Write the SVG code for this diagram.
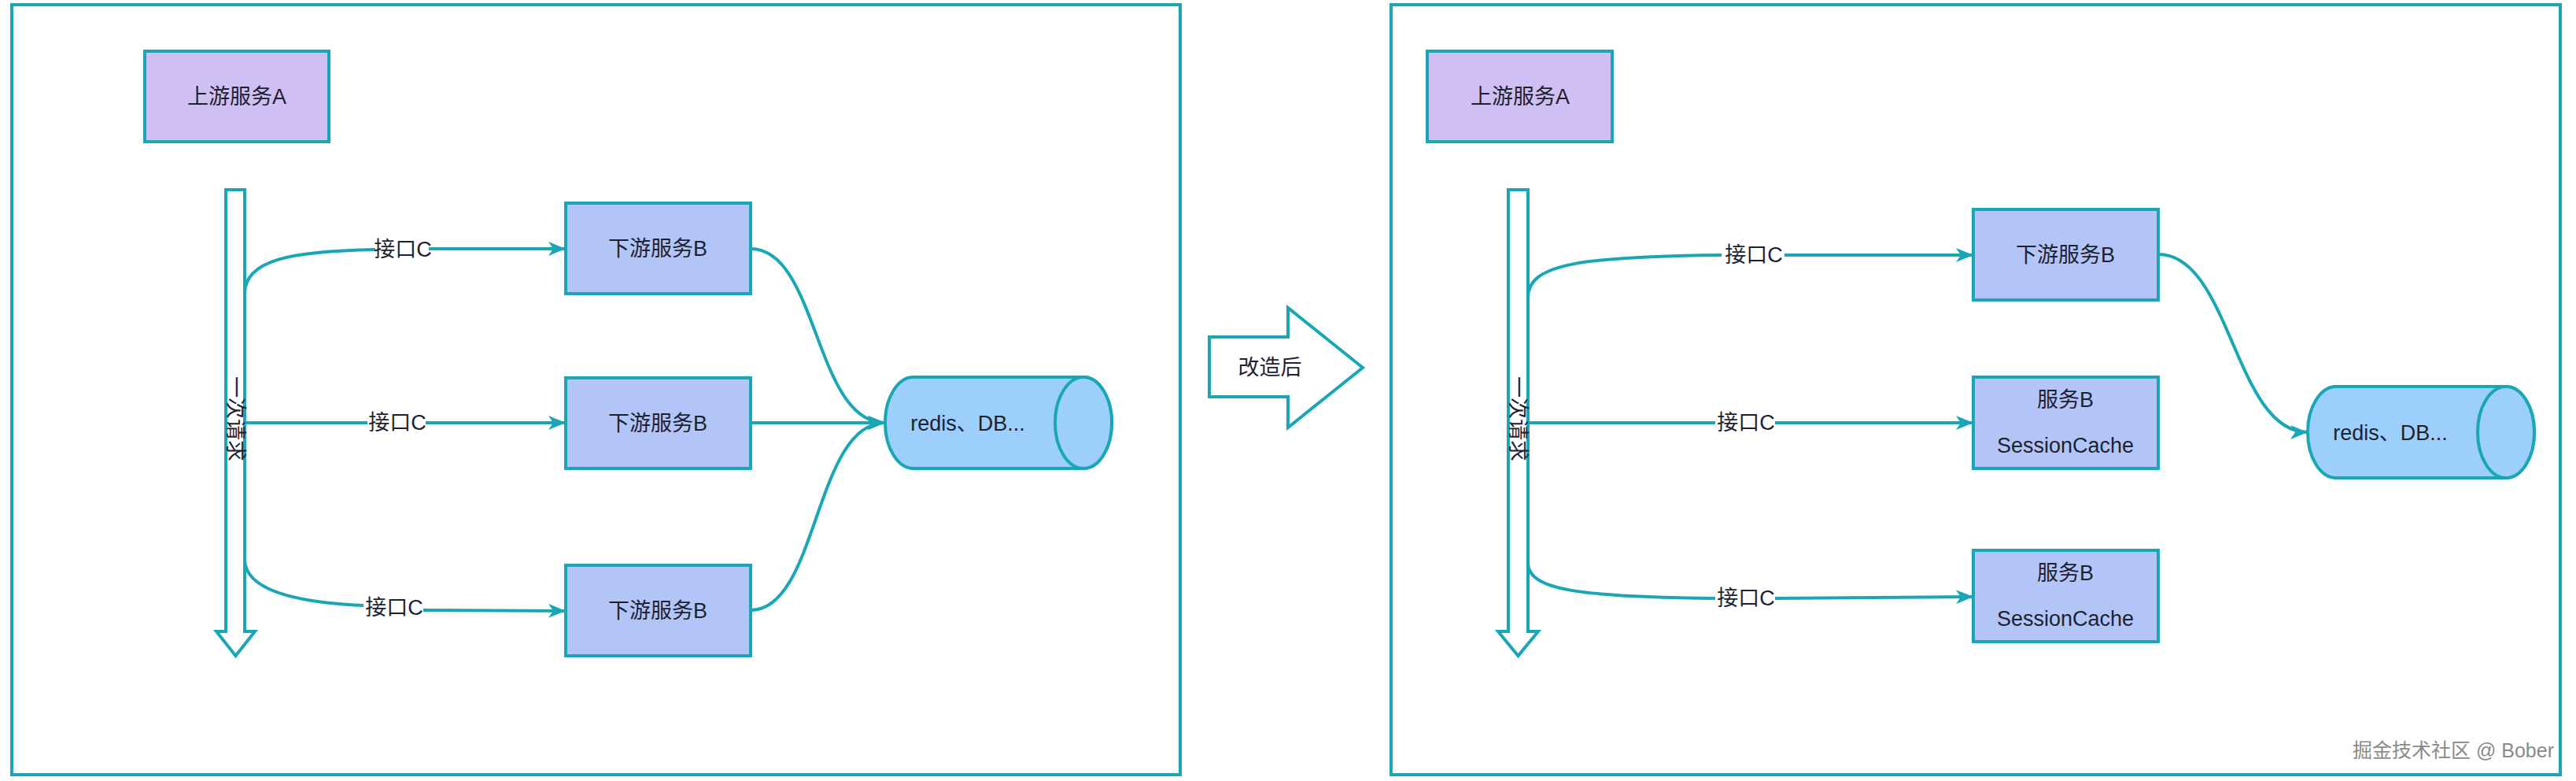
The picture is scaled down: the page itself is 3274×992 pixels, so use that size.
<svg xmlns="http://www.w3.org/2000/svg" width="3274" height="992" viewBox="0 0 3274 992">
<style>
.frame{fill:#ffffff;stroke:#19a7b5;stroke-width:4}
.boxA{fill:#cfbff2;stroke:#19a7b5;stroke-width:4}
.boxB{fill:#b3c5f6;stroke:#19a7b5;stroke-width:4}
.cyl{fill:#9ccffb;stroke:#19a7b5;stroke-width:4}
.bigarrow{fill:#ffffff;stroke:#19a7b5;stroke-width:4}
.edge{fill:none;stroke:#19a7b5;stroke-width:4}
.t{font-family:"Liberation Sans","Noto Sans CJK SC",sans-serif;font-size:27px;fill:#1e2230;text-anchor:middle;dominant-baseline:central}
.wm{font-family:"Liberation Sans","Noto Sans CJK SC",sans-serif;font-size:25px;fill:#8a8a8a;text-anchor:end;dominant-baseline:central}
</style>
<defs>
<marker id="arr" markerWidth="24" markerHeight="18" refX="22" refY="9" orient="auto" markerUnits="userSpaceOnUse">
<path d="M0,0 L22,9 L0,18 L6,9 z" fill="#19a7b5"/>
</marker>
</defs>
<rect width="3274" height="992" fill="#ffffff"/>

<g id="frame-left"><rect class="frame" x="15" y="6" width="1485" height="978"/></g>
<g id="frame-right"><rect class="frame" x="1768" y="6" width="1486" height="978"/></g>

<g id="left-upstreamA"><rect class="boxA" x="184" y="65" width="234" height="115"/><text class="t" x="301" y="123">上游服务A</text></g>
<g id="left-request"><polygon class="bigarrow" points="287,241 311,241 311,802 324,802 299.5,833 275,802 287,802"/><text class="t" transform="translate(299,532) rotate(90)" x="0" y="0">一次请求</text></g>
<g id="left-B1"><rect class="boxB" x="719" y="258" width="235" height="115"/><text class="t" x="836" y="316">下游服务B</text></g>
<g id="left-B2"><rect class="boxB" x="719" y="480" width="235" height="115"/><text class="t" x="836" y="538">下游服务B</text></g>
<g id="left-B3"><rect class="boxB" x="719" y="718" width="235" height="115"/><text class="t" x="836" y="776">下游服务B</text></g>
<g id="left-db"><path class="cyl" d="M1161,479 L1377,479 A36,58 0 0 1 1377,595 L1161,595 A36,58 0 0 1 1161,479 z"/><ellipse class="cyl" cx="1377" cy="537" rx="36" ry="58"/><text class="t" x="1230" y="538">redis、DB...</text></g>

<g id="middle-arrow"><polygon class="bigarrow" points="1537,428 1637,428 1637,391 1732,467 1637,543 1637,504 1537,504"/><text class="t" x="1614" y="467">改造后</text></g>

<g id="right-upstreamA"><rect class="boxA" x="1814" y="65" width="235" height="115"/><text class="t" x="1932" y="123">上游服务A</text></g>
<g id="right-request"><polygon class="bigarrow" points="1917,241 1942,241 1942,802 1955,802 1929.5,833 1904,802 1917,802"/><text class="t" transform="translate(1929,532) rotate(90)" x="0" y="0">一次请求</text></g>
<g id="right-B1"><rect class="boxB" x="2508" y="266" width="235" height="115"/><text class="t" x="2625" y="324">下游服务B</text></g>
<g id="right-SC1"><rect class="boxB" x="2508" y="479" width="235" height="116"/><text class="t" x="2625" y="508">服务B</text><text class="t" x="2625" y="566">SessionCache</text></g>
<g id="right-SC2"><rect class="boxB" x="2508" y="699" width="235" height="116"/><text class="t" x="2625" y="728">服务B</text><text class="t" x="2625" y="786">SessionCache</text></g>
<g id="right-db"><path class="cyl" d="M2969,491 L3185,491 A36,58 0 0 1 3185,607 L2969,607 A36,58 0 0 1 2969,491 z"/><ellipse class="cyl" cx="3185" cy="549" rx="36" ry="58"/><text class="t" x="3038" y="550">redis、DB...</text></g>

<g id="connectors">
<path class="edge" d="M311,373 C311,330 370,319 477,317"/>
<path class="edge" d="M545,316 L719,316" marker-end="url(#arr)"/>
<path class="edge" d="M311,537 L467,537"/>
<path class="edge" d="M541,537 L719,537" marker-end="url(#arr)"/>
<path class="edge" d="M311,710 C311,748 370,765 462,769"/>
<path class="edge" d="M538,775 L719,776" marker-end="url(#arr)"/>
<path class="edge" d="M954,316 C1040,316 1035,537 1125,537" marker-end="url(#arr)"/>
<path class="edge" d="M954,537 L1125,537" marker-end="url(#arr)"/>
<path class="edge" d="M954,775 C1040,775 1035,537 1125,537" marker-end="url(#arr)"/>

<path class="edge" d="M1942,378 C1942,335 2010,326 2188,324"/>
<path class="edge" d="M2268,324 L2508,324" marker-end="url(#arr)"/>
<path class="edge" d="M1942,537 L2180,537"/>
<path class="edge" d="M2256,537 L2508,537" marker-end="url(#arr)"/>
<path class="edge" d="M1942,715 C1942,750 2010,758 2180,760"/>
<path class="edge" d="M2256,760 L2508,758" marker-end="url(#arr)"/>
<path class="edge" d="M2743,323 C2835,323 2840,549 2933,549" marker-end="url(#arr)"/>
</g>

<g id="labels">
<text class="t" x="512" y="317">接口C</text>
<text class="t" x="505" y="537">接口C</text>
<text class="t" x="501" y="772">接口C</text>
<text class="t" x="2229" y="324">接口C</text>
<text class="t" x="2219" y="537">接口C</text>
<text class="t" x="2219" y="760">接口C</text>
</g>

<text class="wm" x="3246" y="953">掘金技术社区 @ Bober</text>
</svg>
